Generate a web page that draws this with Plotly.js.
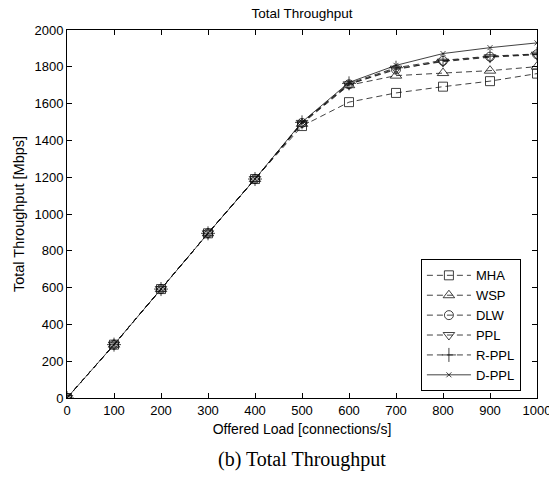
<!DOCTYPE html>
<html><head><meta charset="utf-8">
<script src="https://cdn.plot.ly/plotly-3.0.1.min.js"></script>
<style>html,body{margin:0;padding:0;background:#fff;}</style>
</head><body>
<div id="chart" style="width:549px;height:477px;"></div>
<script>
const load = [0, 100, 200, 300, 400, 500, 600, 700, 800, 900, 1000];
const seriesNames = ["MHA", "WSP", "DLW", "PPL", "R-PPL", "D-PPL"];
const MHA  = [0, 290, 592, 895, 1190, 1478, 1608, 1658, 1692, 1722, 1763];
const WSP  = [0, 290, 592, 895, 1190, 1490, 1700, 1752, 1766, 1779, 1801];
const DLW  = [0, 290, 592, 895, 1190, 1495, 1705, 1785, 1832, 1855, 1868];
const PPL  = [0, 290, 592, 895, 1190, 1495, 1705, 1790, 1828, 1852, 1866];
const RPPL = [0, 290, 592, 895, 1190, 1498, 1710, 1795, 1835, 1858, 1870];
const DPPL = [0, 290, 592, 895, 1190, 1500, 1715, 1808, 1872, 1904, 1930];
const allSeries = [MHA, WSP, DLW, PPL, RPPL, DPPL];
const symbols = ["square-open", "triangle-up-open", "circle-open", "triangle-down-open", "cross-thin-open", "x-thin-open"];
const sizes = [9, 10, 9, 10, 10, 5];
const dashes = ["6px,4px", "6px,4px", "6px,4px", "6px,4px", "6px,4px", "solid"];

const traces = allSeries.map((ys, i) => ({
  x: load, y: ys, name: seriesNames[i], type: "scatter", mode: "lines+markers",
  line: {color: "#111", width: 0.8, dash: dashes[i]},
  marker: {symbol: symbols[i], size: sizes[i], color: "#111", line: {color: "#111", width: 0.8}}
}));

const fam = "Liberation Sans, Arial, sans-serif";
const layout = {
  width: 549, height: 477,
  margin: {l: 67, r: 12, t: 30, b: 79},
  paper_bgcolor: "#fff", plot_bgcolor: "#fff",
  font: {family: fam, size: 13, color: "#000"},
  title: {text: "Total Throughput", font: {family: fam, size: 13.5, color: "#000"}, x: 0.5, xref: "paper", xanchor: "center", y: 0.973, yanchor: "middle"},
  xaxis: {
    range: [0, 1000], tickvals: load, ticktext: load.map(String),
    ticks: "inside", ticklen: 5, tickcolor: "#000", mirror: "ticks",
    showline: true, linecolor: "#000", linewidth: 1, showgrid: false, zeroline: false,
    ticklabeloverflow: "allow",
    title: {text: "Offered Load [connections/s]", font: {family: fam, size: 14, color: "#000"}, standoff: 7},
    tickfont: {family: fam, size: 13, color: "#000"}
  },
  yaxis: {
    range: [0, 2000], dtick: 200, tick0: 0,
    ticks: "inside", ticklen: 5, tickcolor: "#000", mirror: "ticks",
    showline: true, linecolor: "#000", linewidth: 1, showgrid: false, zeroline: false,
    ticklabeloverflow: "allow",
    title: {text: "Total Throughput [Mbps]", font: {family: fam, size: 14.5, color: "#000"}, standoff: 6},
    tickfont: {family: fam, size: 13, color: "#000"}
  },
  legend: {
    x: 0.753, y: 0.018, xanchor: "left", yanchor: "bottom",
    bgcolor: "#fff", bordercolor: "#000", borderwidth: 1,
    font: {family: fam, size: 13, color: "#000"},
    tracegroupgap: 0, itemwidth: 44
  },
  showlegend: true,
  annotations: [{
    text: "(b) Total Throughput", xref: "paper", yref: "paper",
    x: 0.5, y: -0.168, xanchor: "center", yanchor: "middle", showarrow: false,
    font: {family: "Liberation Serif, Times New Roman, serif", size: 20, color: "#000"}
  }]
};
Plotly.newPlot("chart", traces, layout, {displayModeBar: false, staticPlot: true});
</script>
</body></html>
